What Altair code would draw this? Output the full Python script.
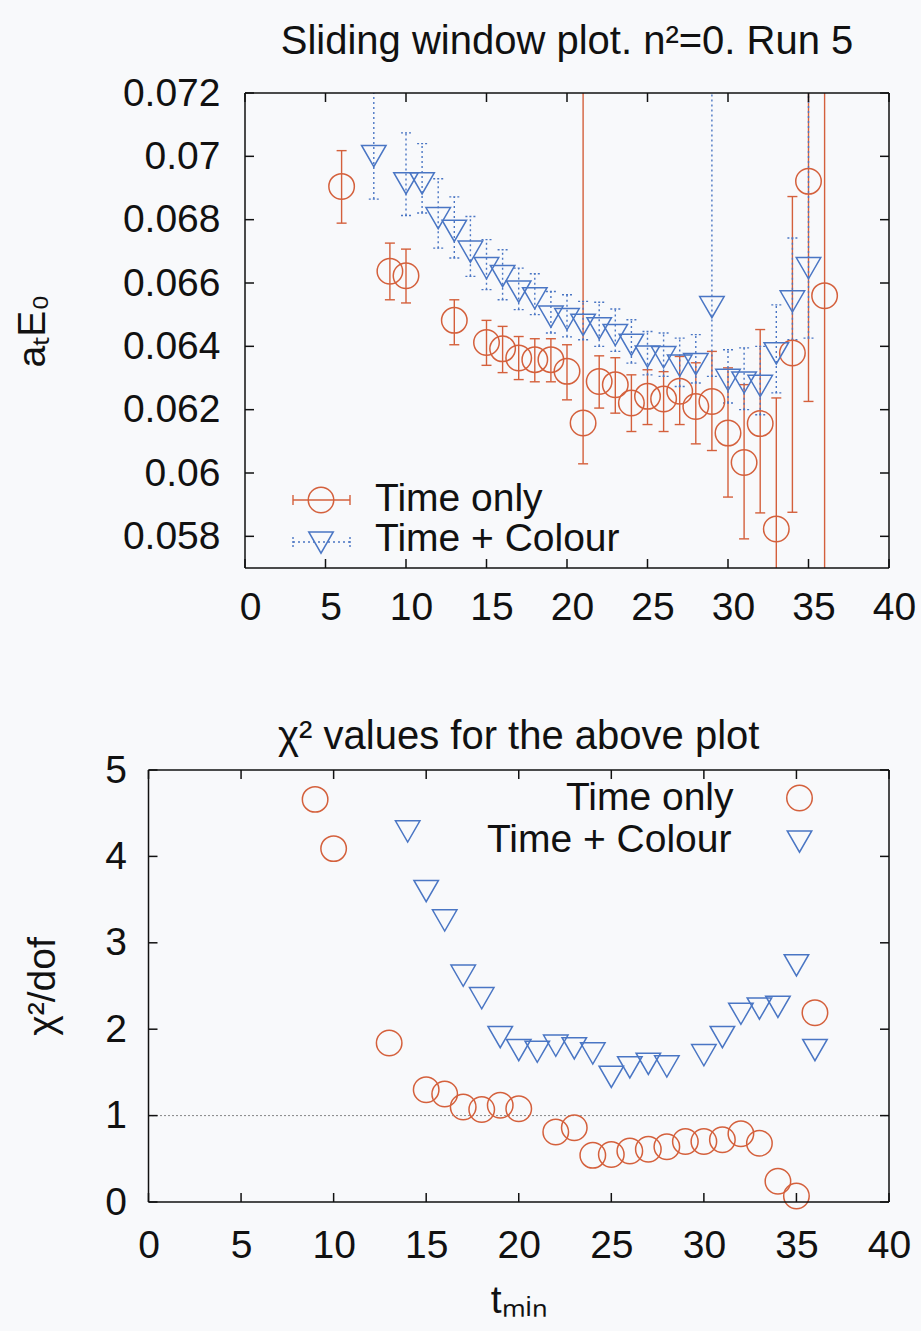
import altair as alt
import pandas as pd

# ---------------- data ----------------
# Top panel: Time only (circles, solid error bars)
t_red = [6, 9, 10, 13, 15, 16, 17, 18, 19, 20, 21, 22, 23, 24, 25, 26, 27, 28, 29, 30, 31, 32, 33, 34, 35, 36]
e_red = [0.06905, 0.06637, 0.06623, 0.06482, 0.06412, 0.06392, 0.06363, 0.06358, 0.06358, 0.06321,
         0.06158, 0.06289, 0.06279, 0.06221, 0.06242, 0.06234, 0.06258, 0.06210, 0.06226, 0.06126,
         0.06033, 0.06156, 0.05823, 0.06379, 0.06921, 0.06560]
lo_red = [0.06789, 0.06547, 0.06537, 0.06405, 0.06340, 0.06317, 0.06295, 0.06288, 0.06288, 0.06231,
          0.06029, 0.06205, 0.06189, 0.06131, 0.06153, 0.06131, 0.06153, 0.06092, 0.06071, 0.05924,
          0.05792, 0.05874, 0.05600, 0.05876, 0.06226, 0.05600]
hi_red = [0.07018, 0.06726, 0.06707, 0.06547, 0.06482, 0.06463, 0.06431, 0.06424, 0.06424, 0.06405,
          0.07300, 0.06370, 0.06364, 0.06310, 0.06326, 0.06320, 0.06368, 0.06348, 0.06384, 0.06332,
          0.06279, 0.06453, 0.06237, 0.06873, 0.07300, 0.07300]

# Top panel: Time + Colour (triangles, dotted error bars)
t_blue = [8, 10, 11, 12, 13, 14, 15, 16, 17, 18, 19, 20, 21, 22, 23, 24, 25, 26, 27, 28, 29, 30, 31, 32, 33, 34, 35]
e_blue = [0.07012, 0.06926, 0.06926, 0.06816, 0.06776, 0.06710, 0.06658, 0.06633, 0.06584, 0.06563,
          0.06505, 0.06497, 0.06479, 0.06468, 0.06447, 0.06416, 0.06379, 0.06377, 0.06350, 0.06355,
          0.06535, 0.06305, 0.06297, 0.06286, 0.06389, 0.06553, 0.06658]
lo_blue = [0.06865, 0.06813, 0.06821, 0.06710, 0.06679, 0.06621, 0.06579, 0.06547, 0.06516, 0.06500,
           0.06442, 0.06430, 0.06421, 0.06400, 0.06384, 0.06347, 0.06310, 0.06305, 0.06273, 0.06284,
           0.06305, 0.06221, 0.06200, 0.06184, 0.06253, 0.06421, 0.06426]
hi_blue = [0.07300, 0.07074, 0.07040, 0.06929, 0.06872, 0.06810, 0.06737, 0.06705, 0.06647, 0.06629,
           0.06573, 0.06563, 0.06542, 0.06539, 0.06518, 0.06484, 0.06447, 0.06442, 0.06426, 0.06437,
           0.07300, 0.06389, 0.06395, 0.06400, 0.06531, 0.06742, 0.07300]

# Bottom panel: chi^2/dof
t_chi_red = [9, 10, 13, 15, 16, 17, 18, 19, 20, 22, 23, 24, 25, 26, 27, 28, 29, 30, 31, 32, 33, 34, 35, 36]
chi_red = [4.66, 4.09, 1.84, 1.30, 1.25, 1.10, 1.07, 1.12, 1.08, 0.81, 0.86, 0.54, 0.55, 0.59, 0.61,
           0.64, 0.70, 0.70, 0.72, 0.79, 0.68, 0.24, 0.07, 2.19]
t_chi_blue = [14, 15, 16, 17, 18, 19, 20, 21, 22, 23, 24, 25, 26, 27, 28, 30, 31, 32, 33, 34, 35, 36]
chi_blue = [4.33, 3.64, 3.30, 2.66, 2.40, 1.95, 1.80, 1.78, 1.85, 1.82, 1.76, 1.49, 1.60, 1.64, 1.61,
            1.74, 1.95, 2.22, 2.28, 2.30, 2.78, 1.80]
chi_ref = [1.0]

x_ticks = [0, 5, 10, 15, 20, 25, 30, 35, 40]
y_ticks_top = [0.058, 0.060, 0.062, 0.064, 0.066, 0.068, 0.070, 0.072]
y_ticks_bot = [0, 1, 2, 3, 4, 5]

# ---------------- layout / styling ----------------
FONT = "Liberation Sans"
RED = "#d4603c"
BLUE = "#4a76c4"
INK = "#111111"
FS = 39          # tick labels, legend, axis titles
FT = 40          # panel titles
TICK = 9
TRI = "M-1,-0.577L1,-0.577L0,1.155Z"

# One drawing area, both panels placed in it by their scale ranges (pixels from its top-left)
OX, OY = 148.5, 93          # page position of the drawing area
PW, PH = 740.5, 1109        # drawing area size
TX0 = 96.5                  # top panel: left edge
TH = 475                    # top panel: height (top edge at 0)
BY0 = 677                   # bottom panel: top edge (bottom edge at PH)

one = pd.DataFrame({"k": [0]})
L = alt.Chart(one)


def hrule(x0, x1, y, **kw):
    return L.mark_rule(**kw).encode(x=alt.value(x0), x2=alt.value(x1), y=alt.value(y))


def vrule(x, y0, y1, **kw):
    return L.mark_rule(**kw).encode(x=alt.value(x), y=alt.value(y0), y2=alt.value(y1))


def frame(x0, x1, y0, y1):
    k = dict(color=INK, strokeWidth=1.5)
    return [hrule(x0, x1, y0, **k), hrule(x0, x1, y1, **k), vrule(x0, y0, y1, **k), vrule(x1, y0, y1, **k)]


def ticks_layers(xs, ys, xax, yax, x0, x1, y0, y1, yt):
    dx = pd.DataFrame({"v": x_ticks})
    dy = pd.DataFrame({"v": yt})
    bx = alt.Chart(dx).mark_rule(color=INK, strokeWidth=1.5)
    by = alt.Chart(dy).mark_rule(color=INK, strokeWidth=1.5)
    return [
        bx.encode(x=alt.X("v:Q", scale=xs, axis=xax), y=alt.value(y1), y2=alt.value(y1 - TICK)),
        bx.encode(x=alt.X("v:Q", scale=xs, axis=xax), y=alt.value(y0), y2=alt.value(y0 + TICK)),
        by.encode(y=alt.Y("v:Q", scale=ys, axis=yax), x=alt.value(x0), x2=alt.value(x0 + TICK)),
        by.encode(y=alt.Y("v:Q", scale=ys, axis=yax), x=alt.value(x1 - TICK), x2=alt.value(x1)),
    ]


def text(x, y, s, align="center", size=FS):
    return L.mark_text(align=align, baseline="middle", font=FONT, fontSize=size, color=INK).encode(
        x=alt.value(x), y=alt.value(y), text=alt.value(s))


# ---------------- top panel ----------------
xs1 = alt.Scale(domain=[0, 40], nice=False, zero=False, range=[TX0, PW])
ys1 = alt.Scale(domain=[0.057, 0.072], nice=False, zero=False, clamp=True, range=[TH, 0])
ax_x1 = alt.Axis(values=x_ticks, title=None, format="d", orient="bottom", offset=-(PH - TH),
                 labelPadding=20, labelFlush=False, labelOffset=5)
ax_y1 = alt.Axis(values=y_ticks_top, title="aₜE₀", labelExpr="format(datum.value, '~g')", orient="left",
                 offset=-TX0, labelPadding=25, titlePadding=70, labelFlush=False)

dred = pd.DataFrame({"t": t_red, "e": e_red, "lo": lo_red, "hi": hi_red})
dblue = pd.DataFrame({"t": t_blue, "e": e_blue, "lo": lo_blue, "hi": hi_blue})


def X1(f="t"):
    return alt.X(f"{f}:Q", scale=xs1, axis=ax_x1)


def Y1(f):
    return alt.Y(f"{f}:Q", scale=ys1, axis=ax_y1)


def err_layers(df, color, dash_bar=None, dash_cap=None):
    kw_bar = dict(color=color, strokeWidth=1.4)
    kw_cap = dict(color=color, strokeWidth=1.4, xOffset=-5, x2Offset=5)
    if dash_bar:
        kw_bar["strokeDash"] = dash_bar
        kw_cap["strokeDash"] = dash_cap
    bar = alt.Chart(df).mark_rule(**kw_bar).encode(x=X1(), y=Y1("lo"), y2="hi:Q")
    cap_lo = alt.Chart(df).transform_filter("datum.lo >= 0.057").mark_rule(**kw_cap).encode(
        x=X1(), x2="t:Q", y=Y1("lo"))
    cap_hi = alt.Chart(df).transform_filter("datum.hi <= 0.072").mark_rule(**kw_cap).encode(
        x=X1(), x2="t:Q", y=Y1("hi"))
    return [bar, cap_lo, cap_hi]


red_pts = alt.Chart(dred).mark_point(shape="circle", size=650, filled=False, strokeWidth=1.5,
                                     color=RED, opacity=1).encode(x=X1(), y=Y1("e"))
blue_pts = alt.Chart(dblue).mark_point(shape=TRI, size=600, filled=False, strokeWidth=1.5,
                                       color=BLUE, opacity=1).encode(x=X1(), y=Y1("e"))

lx = TX0  # legend x origin (top panel left edge)
leg1 = [
    hrule(lx + 48, lx + 105, 407, color=RED, strokeWidth=1.4),
    vrule(lx + 48, 402, 412, color=RED, strokeWidth=1.4),
    vrule(lx + 105, 402, 412, color=RED, strokeWidth=1.4),
    L.mark_point(shape="circle", size=650, filled=False, strokeWidth=1.5, color=RED, opacity=1).encode(
        x=alt.value(lx + 76), y=alt.value(407)),
    text(lx + 130, 406, "Time only", align="left"),
    hrule(lx + 48, lx + 105, 449, color=BLUE, strokeWidth=1.4, strokeDash=[2, 3]),
    vrule(lx + 48, 444, 454, color=BLUE, strokeWidth=1.4, strokeDash=[2, 2]),
    vrule(lx + 105, 444, 454, color=BLUE, strokeWidth=1.4, strokeDash=[2, 2]),
    L.mark_point(shape=TRI, size=600, filled=False, strokeWidth=1.5, color=BLUE, opacity=1).encode(
        x=alt.value(lx + 76), y=alt.value(446)),
    text(lx + 130, 446, "Time + Colour", align="left"),
]

top = alt.layer(
    *err_layers(dred, RED),
    *err_layers(dblue, BLUE, [2, 3], [2, 2]),
    red_pts, blue_pts,
    *ticks_layers(xs1, ys1, ax_x1, ax_y1, TX0, PW, 0, TH, y_ticks_top),
    *frame(TX0, PW, 0, TH),
    *leg1,
    text((TX0 + PW) / 2, 42 - OY, "Sliding window plot. n²=0. Run 5", size=FT),
)

# ---------------- bottom panel ----------------
xs2 = alt.Scale(domain=[0, 40], nice=False, zero=False, range=[0, PW])
ys2 = alt.Scale(domain=[0, 5], nice=False, zero=False, range=[PH, BY0])
ax_x2 = alt.Axis(values=x_ticks, title="tₘᵢₙ", format="d", orient="bottom", labelPadding=24,
                 titlePadding=16, labelFlush=False)
ax_y2 = alt.Axis(values=y_ticks_bot, title="χ²/dof", format="d", orient="left", labelPadding=22,
                 titlePadding=42, labelFlush=False)

cred = pd.DataFrame({"t": t_chi_red, "c": chi_red})
cblue = pd.DataFrame({"t": t_chi_blue, "c": chi_blue})
cref = pd.DataFrame({"c": chi_ref})


def X2(f="t"):
    return alt.X(f"{f}:Q", scale=xs2, axis=ax_x2)


def Y2(f="c"):
    return alt.Y(f"{f}:Q", scale=ys2, axis=ax_y2)


ref_line = alt.Chart(cref).mark_rule(color=INK, strokeWidth=1, strokeDash=[1, 3]).encode(
    y=Y2(), x=alt.value(0), x2=alt.value(PW))
c_red = alt.Chart(cred).mark_point(shape="circle", size=650, filled=False, strokeWidth=1.5,
                                   color=RED, opacity=1).encode(x=X2(), y=Y2())
c_blue = alt.Chart(cblue).mark_point(shape=TRI, size=600, filled=False, strokeWidth=1.5,
                                     color=BLUE, opacity=1).encode(x=X2(), y=Y2())

leg2 = [
    text(585, BY0 + 28, "Time only", align="right"),
    L.mark_point(shape="circle", size=650, filled=False, strokeWidth=1.5, color=RED, opacity=1).encode(
        x=alt.value(651), y=alt.value(BY0 + 28)),
    text(583, BY0 + 70, "Time + Colour", align="right"),
    L.mark_point(shape=TRI, size=600, filled=False, strokeWidth=1.5, color=BLUE, opacity=1).encode(
        x=alt.value(651), y=alt.value(BY0 + 68)),
]

bottom = alt.layer(
    ref_line, c_red, c_blue,
    *ticks_layers(xs2, ys2, ax_x2, ax_y2, 0, PW, BY0, PH, y_ticks_bot),
    *frame(0, PW, BY0, PH),
    *leg2,
    text(PW / 2, 737 - OY, "χ² values for the above plot", size=FT),
)

chart = alt.layer(top, bottom).resolve_scale(x="independent", y="independent").properties(
    width=PW, height=PH,
    autosize=alt.AutoSizeParams(type="none"),
    padding={"left": OX, "top": OY, "right": 921 - OX - PW, "bottom": 1331 - OY - PH},
    background="#f8f9fb",
).configure_view(
    strokeOpacity=0
).configure_axis(
    grid=False, ticks=False, domain=False,
    labelFont=FONT, labelFontSize=FS, labelColor=INK,
    titleFont=FONT, titleFontSize=FS, titleFontWeight="normal", titleColor=INK,
)

chart.save("out.html", embed_options={"renderer": "svg", "actions": False})
